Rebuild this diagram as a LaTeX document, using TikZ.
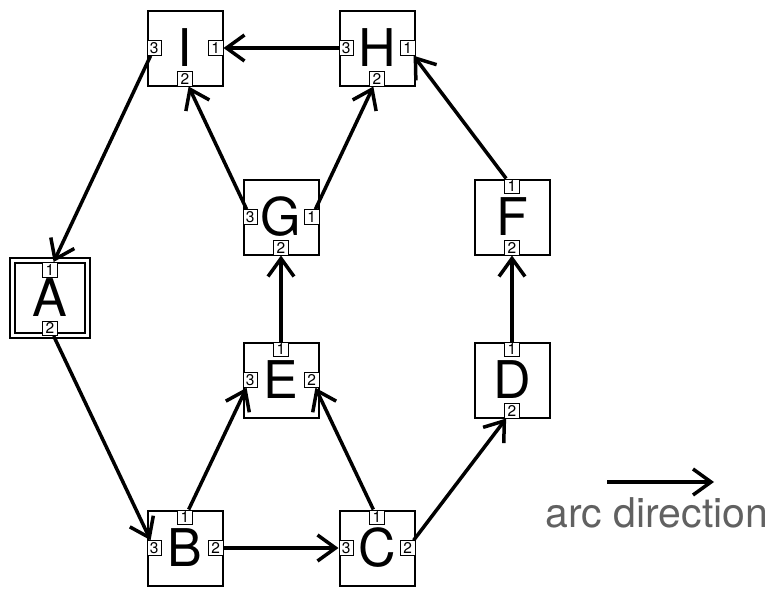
\documentclass[tikz,border=0pt]{standalone}
\usepackage{fontspec}
\setmainfont{TeX Gyre Heros}
\usetikzlibrary{positioning,arrows.meta}
\definecolor{legendgray}{gray}{0.38}
\tikzset{unit node/.style={draw,line width=2pt,minimum size=75pt,inner sep=0pt,font=\fontsize{52}{52}\selectfont},
port node/.style={draw,fill=white,line width=1pt,minimum size=14.5pt,inner sep=0pt,font=\fontsize{15.5}{15.5}\selectfont},
arc line/.style={draw,line width=3.5pt,-{Straight Barb[length=18pt,width=26pt]}},
}

\begin{document}
\begin{tikzpicture}[x=1pt,y=1pt]
\useasboundingbox (0,0) rectangle (777,-589);

%% units
\node[unit node] (I) at (185,-48) {I};
\node[unit node] (H) [right = 115pt of I] {H};
\node[unit node] (G) [below right = 92pt and 19pt of I] {G};
\node[unit node] (E) [below = 86pt of G] {E};
\node[unit node] (B) [below left = 91pt and 19pt of E] {B};
\node[unit node] (C) [right = 115pt of B] {C};
\node[unit node] (D) [above right = 91pt and 58pt of C] {D};
\node[unit node] (F) [above = 86pt of D] {F};
\node[unit node,double,double distance=2.5pt] (A) at (50,-298) {A};

%% ports
\node[port node,anchor=west] (I3) at (I.west) {3};
\node[port node,anchor=east] (I1) at (I.east) {1};
\node[port node,anchor=south] (I2) at (I.south) {2};
\node[port node,anchor=west] (H3) at (H.west) {3};
\node[port node,anchor=east] (H1) at (H.east) {1};
\node[port node,anchor=south] (H2) at (H.south) {2};
\node[port node,anchor=west] (G3) at (G.west) {3};
\node[port node,anchor=east] (G1) at (G.east) {1};
\node[port node,anchor=south] (G2) at (G.south) {2};
\node[port node,anchor=north] (E1) at (E.north) {1};
\node[port node,anchor=west] (E3) at (E.west) {3};
\node[port node,anchor=east] (E2) at (E.east) {2};
\node[port node,anchor=north] (F1) at (F.north) {1};
\node[port node,anchor=south] (F2) at (F.south) {2};
\node[port node,anchor=north] (D1) at (D.north) {1};
\node[port node,anchor=south] (D2) at (D.south) {2};
\node[port node,anchor=north] (B1) at (B.north) {1};
\node[port node,anchor=west] (B3) at (B.west) {3};
\node[port node,anchor=east] (B2) at (B.east) {2};
\node[port node,anchor=north] (C1) at (C.north) {1};
\node[port node,anchor=west] (C3) at (C.west) {3};
\node[port node,anchor=east] (C2) at (C.east) {2};
\node[port node,anchor=north] (A1) at ([yshift=36pt]A.center) {1};
\node[port node,anchor=south] (A2) at ([yshift=-38pt]A.center) {2};

\path[arc line]
(I3) edge (A1)
(A2) edge (B3)
(B2) edge (C3)
(B1) edge (E3)
(C1) edge (E2)
(C2) edge (D2)
(D1) edge (F2)
(F1) edge (H1)
(E1) edge (G2)
(G3) edge (I2)
(G1) edge (H2)
(H3) edge (I1)
;

%% legend
\coordinate (l0) at (607,-482);
\coordinate (l1) at (714,-482);
\draw[arc line] (l0) -- (l1);
\node[anchor=base,text=legendgray,font=\fontsize{41}{41}\selectfont] (dir) at (657,-527) {arc direction};
\end{tikzpicture}
\end{document}
